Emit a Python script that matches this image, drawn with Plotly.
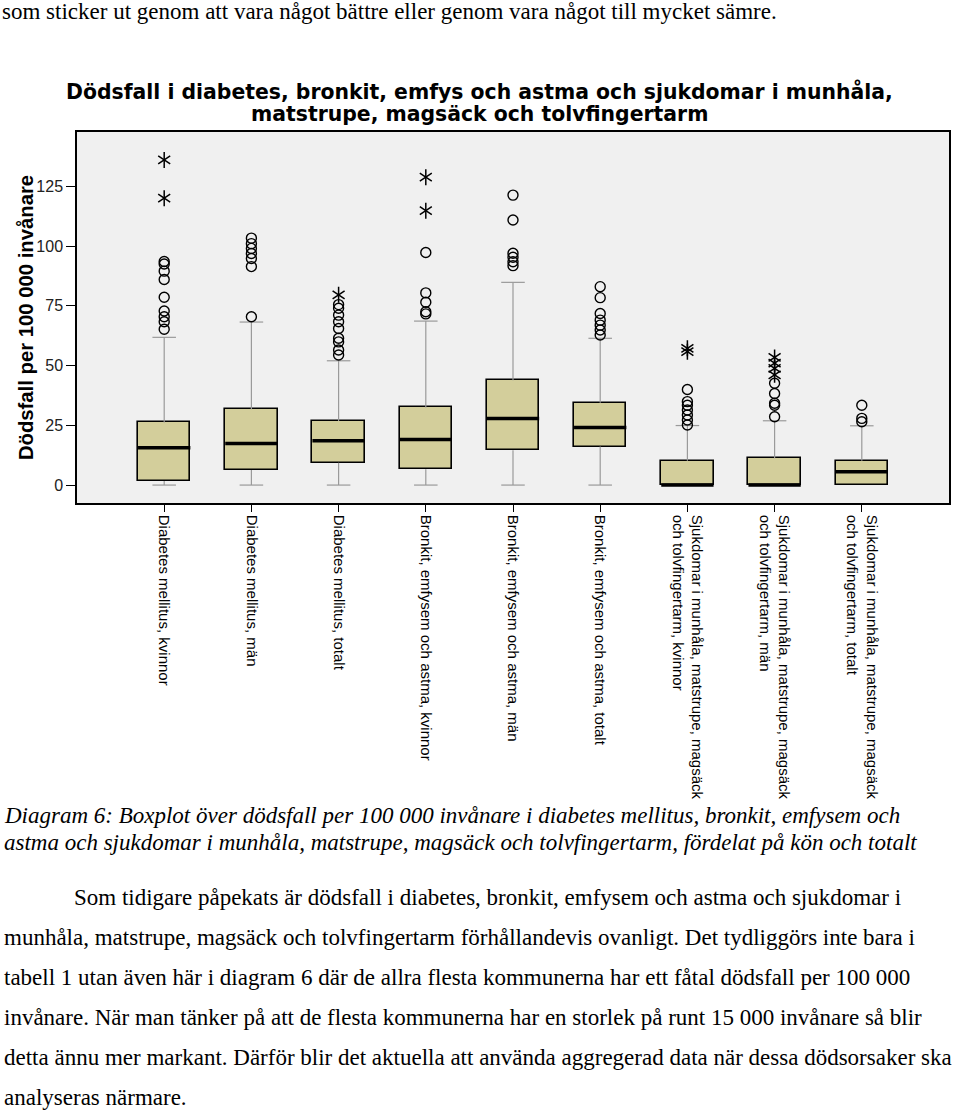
import plotly.graph_objects as go

# ---------------- data ----------------
categories = [
    "Diabetes mellitus, kvinnor",
    "Diabetes mellitus, män",
    "Diabetes mellitus, totalt",
    "Bronkit, emfysem och astma, kvinnor",
    "Bronkit, emfysem och astma, män",
    "Bronkit, emfysem och astma, totalt",
    "Sjukdomar i munhåla, matstrupe, magsäck<br>och tolvfingertarm, kvinnor",
    "Sjukdomar i munhåla, matstrupe, magsäck<br>och tolvfingertarm, män",
    "Sjukdomar i munhåla, matstrupe, magsäck<br>och tolvfingertarm, totalt",
]
q1 = [1.7, 6.3, 9.3, 6.6, 14.6, 16.1, 0.0, 0.0, 0.0]
median = [15.6, 17.4, 18.5, 19.1, 27.9, 24.1, 0.0, 0.0, 5.6]
q3 = [26.2, 31.7, 26.8, 32.5, 43.9, 34.4, 10.2, 11.2, 10.2]
lower_whisker = [0, 0, 0, 0, 0, 0, 0, 0, 0]
upper_whisker = [61.8, 68.2, 52.0, 68.6, 84.8, 61.4, 24.9, 26.9, 24.8]
outliers = [
    [65.2, 68.3, 70.4, 72.8, 78.6, 86.0, 89.5, 92.5, 93.5],
    [70.4, 91.4, 94.8, 96.9, 99.0, 101.0, 103.3],
    [54.4, 56.5, 59.9, 61.4, 65.5, 68.3, 71.1, 74.0, 75.5],
    [71.6, 72.5, 76.5, 80.4, 97.3],
    [91.8, 93.4, 95.3, 97.0, 110.9, 121.3],
    [62.8, 64.9, 66.9, 69.0, 71.8, 78.4, 83.0],
    [25.1, 27.2, 29.3, 31.4, 33.4, 34.9, 40.0],
    [28.6, 33.4, 34.2, 38.3, 42.6],
    [26.5, 27.9, 33.4],
]
extremes = [
    [120.0, 136.0],
    [],
    [79.6],
    [114.8, 128.8],
    [],
    [],
    [55.8, 57.2],
    [46.1, 48.8, 51.0, 53.4],
    [],
]
y_ticks = [0, 25, 50, 75, 100, 125]

title_lines = [
    "Dödsfall i diabetes, bronkit, emfys och astma och sjukdomar i munhåla,",
    "matstrupe, magsäck och tolvfingertarm",
]
y_title = "Dödsfall per 100 000 invånare"
top_line = "som sticker ut genom att vara något bättre eller genom vara något till mycket sämre."
caption_lines = [
    "Diagram 6: Boxplot över dödsfall per 100 000 invånare i diabetes mellitus, bronkit, emfysem och",
    "astma och sjukdomar i munhåla, matstrupe, magsäck och tolvfingertarm, fördelat på kön och totalt",
]
body_lines = [
    "Som tidigare påpekats är dödsfall i diabetes, bronkit, emfysem och astma och sjukdomar i",
    "munhåla, matstrupe, magsäck och tolvfingertarm förhållandevis ovanligt. Det tydliggörs inte bara i",
    "tabell 1 utan även här i diagram 6 där de allra flesta kommunerna har ett fåtal dödsfall per 100 000",
    "invånare. När man tänker på att de flesta kommunerna har en storlek på runt 15 000 invånare så blir",
    "detta ännu mer markant. Därför blir det aktuella att använda aggregerad data när dessa dödsorsaker ska",
    "analyseras närmare.",
]

# ---------------- layout constants ----------------
W, H = 960, 1113
L, R, T, B = 77, 9, 132, 610
plot_h = H - T - B
BOX_W = 0.6
CAP_HALF = 0.135
box_fill = "#D3CE9B"
whisker_col = "#9a9a9a"
SERIF = "Liberation Serif, Times New Roman, serif"
SANS = "Liberation Sans, Arial, sans-serif"


def py(ypix):
    return (H - B - ypix) / plot_h


def px(xpix):
    return (xpix - L) / (W - L - R)


idx = list(range(len(categories)))

fig = go.Figure()

# boxes
fig.add_trace(go.Bar(
    x=idx, y=[b - a for a, b in zip(q1, q3)], base=q1, width=BOX_W,
    marker=dict(color=box_fill, line=dict(color="black", width=1.6)),
    hoverinfo="skip", showlegend=False,
))

# whiskers and caps
wx, wy = [], []
for i in idx:
    wx += [i, i, None]
    wy += [q3[i], upper_whisker[i], None]
    wx += [i - CAP_HALF, i + CAP_HALF, None]
    wy += [upper_whisker[i], upper_whisker[i], None]
    if lower_whisker[i] < q1[i]:
        wx += [i, i, None]
        wy += [lower_whisker[i], q1[i], None]
        wx += [i - CAP_HALF, i + CAP_HALF, None]
        wy += [lower_whisker[i], lower_whisker[i], None]
fig.add_trace(go.Scatter(x=wx, y=wy, mode="lines",
                         line=dict(color=whisker_col, width=1.2),
                         hoverinfo="skip", showlegend=False))

# medians
mx, my = [], []
for i in idx:
    mx += [i - BOX_W / 2, i + BOX_W / 2, None]
    my += [median[i], median[i], None]
fig.add_trace(go.Scatter(x=mx, y=my, mode="lines",
                         line=dict(color="black", width=3.5),
                         hoverinfo="skip", showlegend=False))

# outliers (circles)
ox, oy = [], []
for i in idx:
    ox += [i] * len(outliers[i])
    oy += outliers[i]
fig.add_trace(go.Scatter(x=ox, y=oy, mode="markers",
                         marker=dict(symbol="circle-open", size=10,
                                     color="black", line=dict(width=1.4)),
                         hoverinfo="skip", showlegend=False))

# extremes (stars)
ex, ey = [], []
for i in idx:
    ex += [i] * len(extremes[i])
    ey += extremes[i]
for sym in ["y-up-open", "y-down-open"]:
    fig.add_trace(go.Scatter(x=ex, y=ey, mode="markers",
                             marker=dict(symbol=sym, size=10, color="black",
                                         line=dict(width=1.5, color="black")),
                             hoverinfo="skip", showlegend=False))

fig.update_layout(
    width=W, height=H,
    margin=dict(l=L, r=R, t=T, b=B, pad=0),
    paper_bgcolor="white",
    plot_bgcolor="#F0F0F0",
    font=dict(family=SANS, color="black"),
    bargap=0,
)

fig.update_xaxes(
    range=[-1, 9], tickmode="array", tickvals=idx, ticktext=categories,
    tickangle=90, ticks="outside", ticklen=7, tickwidth=1.2, tickcolor="black",
    showline=True, linecolor="black", linewidth=1.5, mirror=True,
    showgrid=False, zeroline=False,
    tickfont=dict(size=15, family=SANS, color="black"),
)
fig.update_yaxes(
    range=[-7.5, 147.7], tickmode="array", tickvals=y_ticks,
    ticks="outside", ticklen=9, tickwidth=1.2, tickcolor="black",
    showline=True, linecolor="black", linewidth=1.5, mirror=True,
    showgrid=False, zeroline=False,
    tickfont=dict(size=16, family=SANS, color="#222"),
)

ann = []
for k, line in enumerate(title_lines):
    ann.append(dict(text="<b>" + line + "</b>", x=px(480), y=py(92 + 22 * k),
                    xref="paper", yref="paper", xanchor="center", yanchor="middle",
                    showarrow=False,
                    font=dict(size=20.4, family="DejaVu Sans, sans-serif", color="black")))
ann.append(dict(text="<b>" + y_title + "</b>", textangle=-90,
                x=px(26), y=py(318), xref="paper", yref="paper",
                xanchor="center", yanchor="middle", showarrow=False,
                font=dict(size=20.3, family=SANS, color="black")))
ann.append(dict(text=top_line, x=px(0), y=py(12), xref="paper", yref="paper",
                xanchor="left", yanchor="middle", showarrow=False,
                font=dict(size=23, family=SERIF, color="black")))
for k, line in enumerate(caption_lines):
    ann.append(dict(text="<i>" + line + "</i>", x=px(2), y=py(815 + 27 * k),
                    xref="paper", yref="paper", xanchor="left", yanchor="middle",
                    showarrow=False,
                    font=dict(size=23, family=SERIF, color="black")))
for k, line in enumerate(body_lines):
    xs = 72 if k == 0 else 2
    ann.append(dict(text=line, x=px(xs), y=py(897 + 40 * k),
                    xref="paper", yref="paper", xanchor="left", yanchor="middle",
                    showarrow=False,
                    font=dict(size=23, family=SERIF, color="black")))
fig.update_layout(annotations=ann)

fig.write_html("out.html",
               config={"displayModeBar": False},
               post_script="document.body.style.margin='0';document.body.style.padding='0';")
